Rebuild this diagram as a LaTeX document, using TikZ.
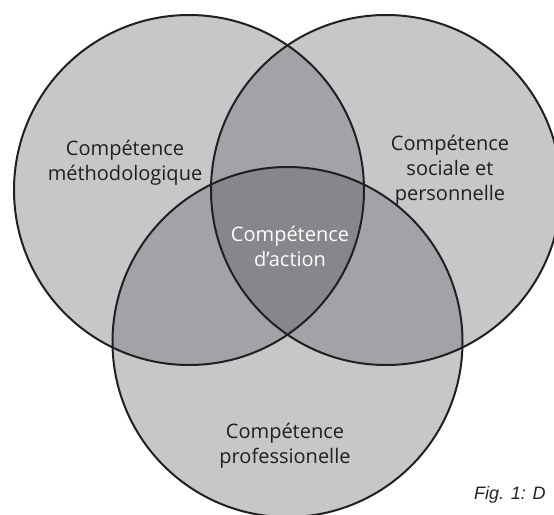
\documentclass[tikz,border=0pt]{standalone}
\usepackage{fontspec}
\setmainfont{Open Sans}
\newfontfamily\capfont{Liberation Sans}
\definecolor{light}{HTML}{C6C7C9}
\definecolor{mid}{HTML}{A2A3A6}
\definecolor{dark}{HTML}{86878A}
\definecolor{ink}{HTML}{231F20}
\tikzset{
  lbl/.style={font=\fontsize{20}{25}\selectfont, text=ink, align=center, inner sep=0pt},
  lblw/.style={lbl, text=white},
  ring/.style={draw=ink, line width=2pt}
}
\begin{document}
\begin{tikzpicture}[x=1pt,y=-1pt]
\useasboundingbox (0,0) rectangle (554,514);
\clip (0,0) rectangle (554,514);
\coordinate (cL) at (189,190);
\coordinate (cR) at (386,190);
\coordinate (cB) at (287.5,342);
\def\R{175}
% base fills
\fill[light] (cL) circle (\R);
\fill[light] (cR) circle (\R);
\fill[light] (cB) circle (\R);
% pairwise
\begin{scope}\clip (cL) circle (\R); \fill[mid] (cR) circle (\R); \fill[mid] (cB) circle (\R);\end{scope}
\begin{scope}\clip (cR) circle (\R); \fill[mid] (cB) circle (\R);\end{scope}
% triple
\begin{scope}\clip (cL) circle (\R); \clip (cR) circle (\R); \fill[dark] (cB) circle (\R);\end{scope}
% outlines
\draw[ring] (cL) circle (\R);
\draw[ring] (cR) circle (\R);
\draw[ring] (cB) circle (\R);
% labels
\node[lbl] (tL) at (125,163) {Compétence\\méthodologique};
\node[lbl] (tR) at (450,170) {Compétence\\sociale et\\personnelle};
\node[lblw] (tC) at (290,246) {Compétence\\d’action};
\node[lbl] (tB) at (285,446) {Compétence\\professionelle};
\node[anchor=west, inner sep=0pt, font=\capfont\itshape\fontsize{18}{20}\selectfont, text=ink] (cap) at (474,495) {Fig. 1: D};
\end{tikzpicture}
\end{document}
